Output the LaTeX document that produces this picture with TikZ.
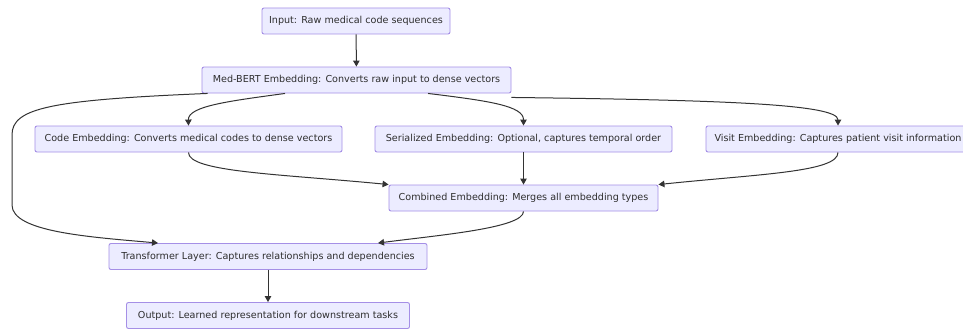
\documentclass[tikz,border=0pt]{standalone}
\usepackage{fontspec}
\setmainfont{DejaVu Sans}
\usetikzlibrary{arrows.meta}
\definecolor{boxfill}{HTML}{ECECFF}
\definecolor{boxline}{HTML}{A58FE6}
\definecolor{edge}{HTML}{333333}
\tikzset{
  box/.style={draw=boxline, fill=boxfill, rounded corners=2pt, line width=0.9pt,
    minimum height=26pt, inner sep=0pt, font=\fontsize{9.6}{11}\selectfont, text=black!82},
  link/.style={draw=edge, line width=1pt, -{Triangle[length=6pt,width=6.5pt]}}
}
\begin{document}
\begin{tikzpicture}[x=1pt,y=-1pt]
\useasboundingbox (0,0) rectangle (963,329);
\clip (0,0) rectangle (963,329);
\fill[white] (0,0) rectangle (963,329);
\node[box, minimum width=188pt] (in) at (356,21) {Input: Raw medical code sequences};
\node[box, minimum width=309pt] (mb) at (356.5,80) {Med-BERT Embedding: Converts raw input to dense vectors};
\node[box, minimum width=307pt] (ce) at (188.5,139) {Code Embedding: Converts medical codes to dense vectors};
\node[box, minimum width=297pt] (se) at (523.5,139) {Serialized Embedding: Optional, captures temporal order};
\node[box, minimum width=264pt] (ve) at (838,139) {Visit Embedding: Captures patient visit information};
\node[box, minimum width=269pt] (cb) at (523.5,198) {Combined Embedding: Merges all embedding types};
\node[box, minimum width=318pt] (tr) at (268,256.5) {Transformer Layer: Captures relationships and dependencies};
\node[box, minimum width=283pt] (out) at (268,315.5) {Output: Learned representation for downstream tasks};

\draw[link] (in) -- (mb);
\draw[link] ([xshift=-71.5pt]mb.south) .. controls (230,101) and (188,106) .. (ce.north);
\draw[link] ([xshift=71.5pt]mb.south) .. controls (490,101) and (523.5,106) .. (se.north);
\draw[link] ([yshift=-4pt]mb.south east) .. controls (720,100) and (838,104) .. (ve.north);
\draw[link] ([xshift=6pt]mb.south west) .. controls (50,100) and (12,108) .. (12,135) -- (12,205)
   .. controls (12,232) and (90,237) .. ([xshift=-110pt]tr.north);
\draw[link] (ce.south) .. controls (188,172) and (280,174) .. (cb.north west);
\draw[link] (se) -- (cb);
\draw[link] (ve.south) .. controls (838,172) and (760,174) .. (cb.north east);
\draw[link] (cb.south) .. controls (523.5,228) and (440,235) .. ([xshift=110pt]tr.north);
\draw[link] (tr) -- (out);
\end{tikzpicture}
\end{document}
